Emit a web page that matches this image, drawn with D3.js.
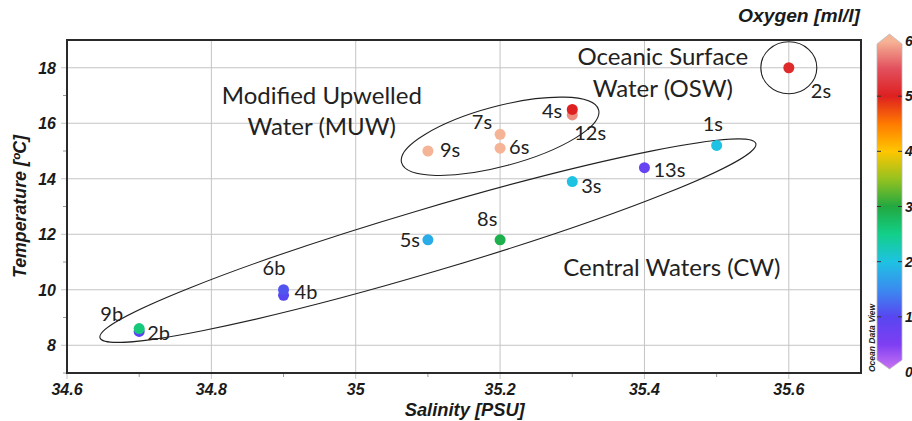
<!DOCTYPE html>
<html>
<head>
<meta charset="utf-8">
<script src="https://cdn.jsdelivr.net/npm/d3@7"></script>
<style>
body { margin: 0; background: #fff; }
svg { display: block; }
</style>
</head>
<body>
<script>
// station data (draw order matters: lower dots first)
var stations    = ['2s', '12s', '4s', '7s', '6s', '9s', '1s', '13s', '3s', '8s', '5s', '4b', '6b', '2b', '9b'];
var salinity    = [35.6, 35.3, 35.3, 35.2, 35.2, 35.1, 35.5, 35.4, 35.3, 35.2, 35.1, 34.9, 34.9, 34.7, 34.7];
var temperature = [18.0, 16.3, 16.5, 15.6, 15.1, 15.0, 15.2, 14.4, 13.9, 11.8, 11.8, 9.8, 10.0, 8.5, 8.6];
var oxygen      = [5.1, 5.8, 5.0, 6.0, 6.0, 6.0, 2.0, 0.8, 2.0, 2.9, 1.8, 1.0, 1.1, 1.0, 2.6];

// label placement relative to each dot (px)
var labelDx     = [22, 2, -10, -8, 9, 12, -14, 9, 9, -23, -8, 11, -21, 8, -16];
var labelDy     = [30, 25, 9, -5, 6, 6, -14, 9, 11, -14, 7, 4, -15, 9, -8];
var labelAnchor = ['start', 'start', 'end', 'end', 'start', 'start', 'start', 'start', 'start', 'start', 'end', 'start', 'start', 'start', 'end'];

var xTicks = [34.6, 34.8, 35, 35.2, 35.4, 35.6];
var yTicks = [8, 10, 12, 14, 16, 18];
var cTicks = [0, 1, 2, 3, 4, 5, 6];

// water mass text
var massLines = ['Oceanic Surface', 'Water (OSW)', 'Modified Upwelled', 'Water (MUW)', 'Central Waters (CW)'];
var massSal   = [35.4255, 35.4255, 34.953, 34.953, 35.438];
var massTemp  = [18.10, 16.94, 16.69, 15.57, 10.51];

// ellipses round the water masses: centre in data units
var ellSal  = [35.6, 35.2, 35.10];
var ellTemp = [18.0, 15.53, 11.77];
var ellRx   = [28, 102, 342];
var ellRy   = [26, 30, 31.5];
var ellRot  = [0, -15, -16.5];

// oxygen colour ramp
var rampStops  = [0, 0.5, 1, 1.5, 2, 2.5, 3, 3.5, 4, 4.5, 5, 5.5, 6];
var rampColors = ['#d27af2', '#7e3ef2', '#5846f0', '#3a8cf0', '#1ec2e2', '#12d088', '#22a840',
                  '#96c220', '#ffc600', '#ff7a00', '#de2020', '#e2505e', '#f6b496'];

var W = 912, H = 421;
var margin = { top: 40, right: 51, bottom: 48, left: 67 };
var width = W - margin.left - margin.right,
    height = H - margin.top - margin.bottom;

var svg = d3.select('body').append('svg')
    .attr('width', W)
    .attr('height', H);

var x = d3.scaleLinear().domain([34.6, 35.7]).range([0, width]);
var y = d3.scaleLinear().domain([7, 19]).range([height, 0]);
var color = d3.scaleLinear().domain(rampStops).range(rampColors);

var g = svg.append('g')
    .attr('transform', 'translate(' + margin.left + ',' + margin.top + ')');

// grid
g.selectAll('.gx').data(xTicks).enter().append('line')
    .attr('x1', function(d) { return x(d); })
    .attr('x2', function(d) { return x(d); })
    .attr('y1', 0).attr('y2', height + 6)
    .attr('stroke', '#c4c4c4');
g.selectAll('.gy').data(yTicks).enter().append('line')
    .attr('y1', function(d) { return y(d); })
    .attr('y2', function(d) { return y(d); })
    .attr('x1', -6).attr('x2', width)
    .attr('stroke', '#c4c4c4');

// minor ticks outside the frame
var xMinor = d3.range(34.7, 35.7, 0.2);
var yMinor = d3.range(7, 19, 2);
g.selectAll('.mx').data(xMinor).enter().append('line')
    .attr('x1', function(d) { return x(d); })
    .attr('x2', function(d) { return x(d); })
    .attr('y1', height).attr('y2', height + 4)
    .attr('stroke', '#999');
g.selectAll('.my').data(yMinor).enter().append('line')
    .attr('y1', function(d) { return y(d); })
    .attr('y2', function(d) { return y(d); })
    .attr('x1', -4).attr('x2', 0)
    .attr('stroke', '#999');

// tick labels
var tickFont = "'Liberation Sans Narrow', 'Liberation Sans', Arial, sans-serif";
g.selectAll('.tx').data(xTicks).enter().append('text')
    .attr('x', function(d) { return x(d); })
    .attr('y', height + 22)
    .attr('text-anchor', 'middle')
    .style('font', 'italic bold 16px ' + tickFont)
    .style('fill', '#1a1a1a')
    .text(function(d) { return d; });
g.selectAll('.ty').data(yTicks).enter().append('text')
    .attr('x', -11)
    .attr('y', function(d) { return y(d) + 6; })
    .attr('text-anchor', 'end')
    .style('font', 'italic bold 16px ' + tickFont)
    .style('fill', '#1a1a1a')
    .text(function(d) { return d; });

// axis titles
svg.append('text')
    .attr('x', margin.left + x(35.151))
    .attr('y', 416)
    .attr('text-anchor', 'middle')
    .attr('textLength', 120)
    .attr('lengthAdjust', 'spacingAndGlyphs')
    .style('font', 'italic bold 18px ' + tickFont)
    .style('fill', '#1a1a1a')
    .text('Salinity [PSU]');
svg.append('text')
    .attr('transform', 'translate(26,' + (margin.top + y(13)) + ') rotate(-90)')
    .attr('text-anchor', 'middle')
    .attr('textLength', 143)
    .attr('lengthAdjust', 'spacingAndGlyphs')
    .style('font', 'italic bold 18px ' + tickFont)
    .style('fill', '#1a1a1a')
    .text('Temperature [\u00baC]');

// ellipses
var ell = d3.range(ellSal.length);
g.selectAll('.ell').data(ell).enter().append('ellipse')
    .attr('transform', function(i) {
        return 'translate(' + x(ellSal[i]) + ',' + y(ellTemp[i]) + ') rotate(' + ellRot[i] + ')';
    })
    .attr('rx', function(i) { return ellRx[i]; })
    .attr('ry', function(i) { return ellRy[i]; })
    .attr('fill', 'none')
    .attr('stroke', '#222')
    .attr('stroke-width', 1.1);

// water mass names
var labelFont = "Lato, 'Open Sans', sans-serif";
g.selectAll('.mass').data(massLines).enter().append('text')
    .attr('x', function(d, i) { return x(massSal[i]); })
    .attr('y', function(d, i) { return y(massTemp[i]); })
    .attr('text-anchor', 'middle')
    .style('font', '24px ' + labelFont)
    .style('fill', '#222')
    .text(function(d) { return d; });

// dots
var idx = d3.range(stations.length);
g.selectAll('.dot').data(idx).enter().append('circle')
    .attr('cx', function(i) { return x(salinity[i]); })
    .attr('cy', function(i) { return y(temperature[i]); })
    .attr('r', 5.5)
    .attr('fill', function(i) { return color(oxygen[i]); });

g.selectAll('.lab').data(idx).enter().append('text')
    .attr('x', function(i) { return x(salinity[i]) + labelDx[i]; })
    .attr('y', function(i) { return y(temperature[i]) + labelDy[i]; })
    .attr('text-anchor', function(i) { return labelAnchor[i]; })
    .style('font', '20px ' + labelFont)
    .style('fill', '#222')
    .text(function(i) { return stations[i]; });

// frame
g.append('rect')
    .attr('width', width).attr('height', height)
    .attr('fill', 'none')
    .attr('stroke', '#2a2a2a')
    .attr('stroke-width', 2);

// colour bar
var cb = { x: 877, w: 25 };
var cy = d3.scaleLinear().domain([0, 6]).range([372, 41]);

var defs = svg.append('defs');
var grad = defs.append('linearGradient')
    .attr('id', 'oxy')
    .attr('gradientUnits', 'userSpaceOnUse')
    .attr('x1', 0).attr('x2', 0)
    .attr('y1', cy(0)).attr('y2', cy(6));
grad.selectAll('stop').data(rampStops).enter().append('stop')
    .attr('offset', function(d) { return d / 6; })
    .attr('stop-color', function(d, i) { return rampColors[i]; });

var topY = 44, botY = 360;
svg.append('path')
    .attr('d', 'M' + cb.x + ',' + topY +
        'L' + (cb.x + cb.w / 2) + ',' + (topY - 10) +
        'L' + (cb.x + cb.w) + ',' + topY +
        'L' + (cb.x + cb.w) + ',' + botY +
        'L' + (cb.x + cb.w / 2) + ',' + (botY + 9) +
        'L' + cb.x + ',' + botY + 'Z')
    .attr('fill', 'url(#oxy)')
    .attr('stroke', '#bbb')
    .attr('stroke-width', 0.8);

svg.selectAll('.cbt').data([1, 2, 3, 4, 5]).enter().append('path')
    .attr('d', function(d) {
        return 'M' + cb.x + ',' + cy(d) + 'h4M' + (cb.x + cb.w - 4) + ',' + cy(d) + 'h4';
    })
    .attr('stroke', '#333')
    .attr('stroke-width', 1);

svg.selectAll('.cbl').data(cTicks).enter().append('text')
    .attr('x', 905)
    .attr('y', function(d) { return cy(d) + 5; })
    .style('font', 'italic bold 14px ' + tickFont)
    .style('fill', '#1a1a1a')
    .text(function(d) { return d; });

svg.append('text')
    .attr('x', 860).attr('y', 22)
    .attr('text-anchor', 'end')
    .attr('textLength', 122)
    .attr('lengthAdjust', 'spacingAndGlyphs')
    .style('font', "italic bold 18px 'Liberation Sans', Arial, sans-serif")
    .style('fill', '#1a1a1a')
    .text('Oxygen [ml/l]');

svg.append('text')
    .attr('transform', 'translate(875,372) rotate(-90)')
    .style('font', "italic bold 8.5px 'Liberation Sans', Arial, sans-serif")
    .style('fill', '#222')
    .text('Ocean Data View');
</script>
</body>
</html>
